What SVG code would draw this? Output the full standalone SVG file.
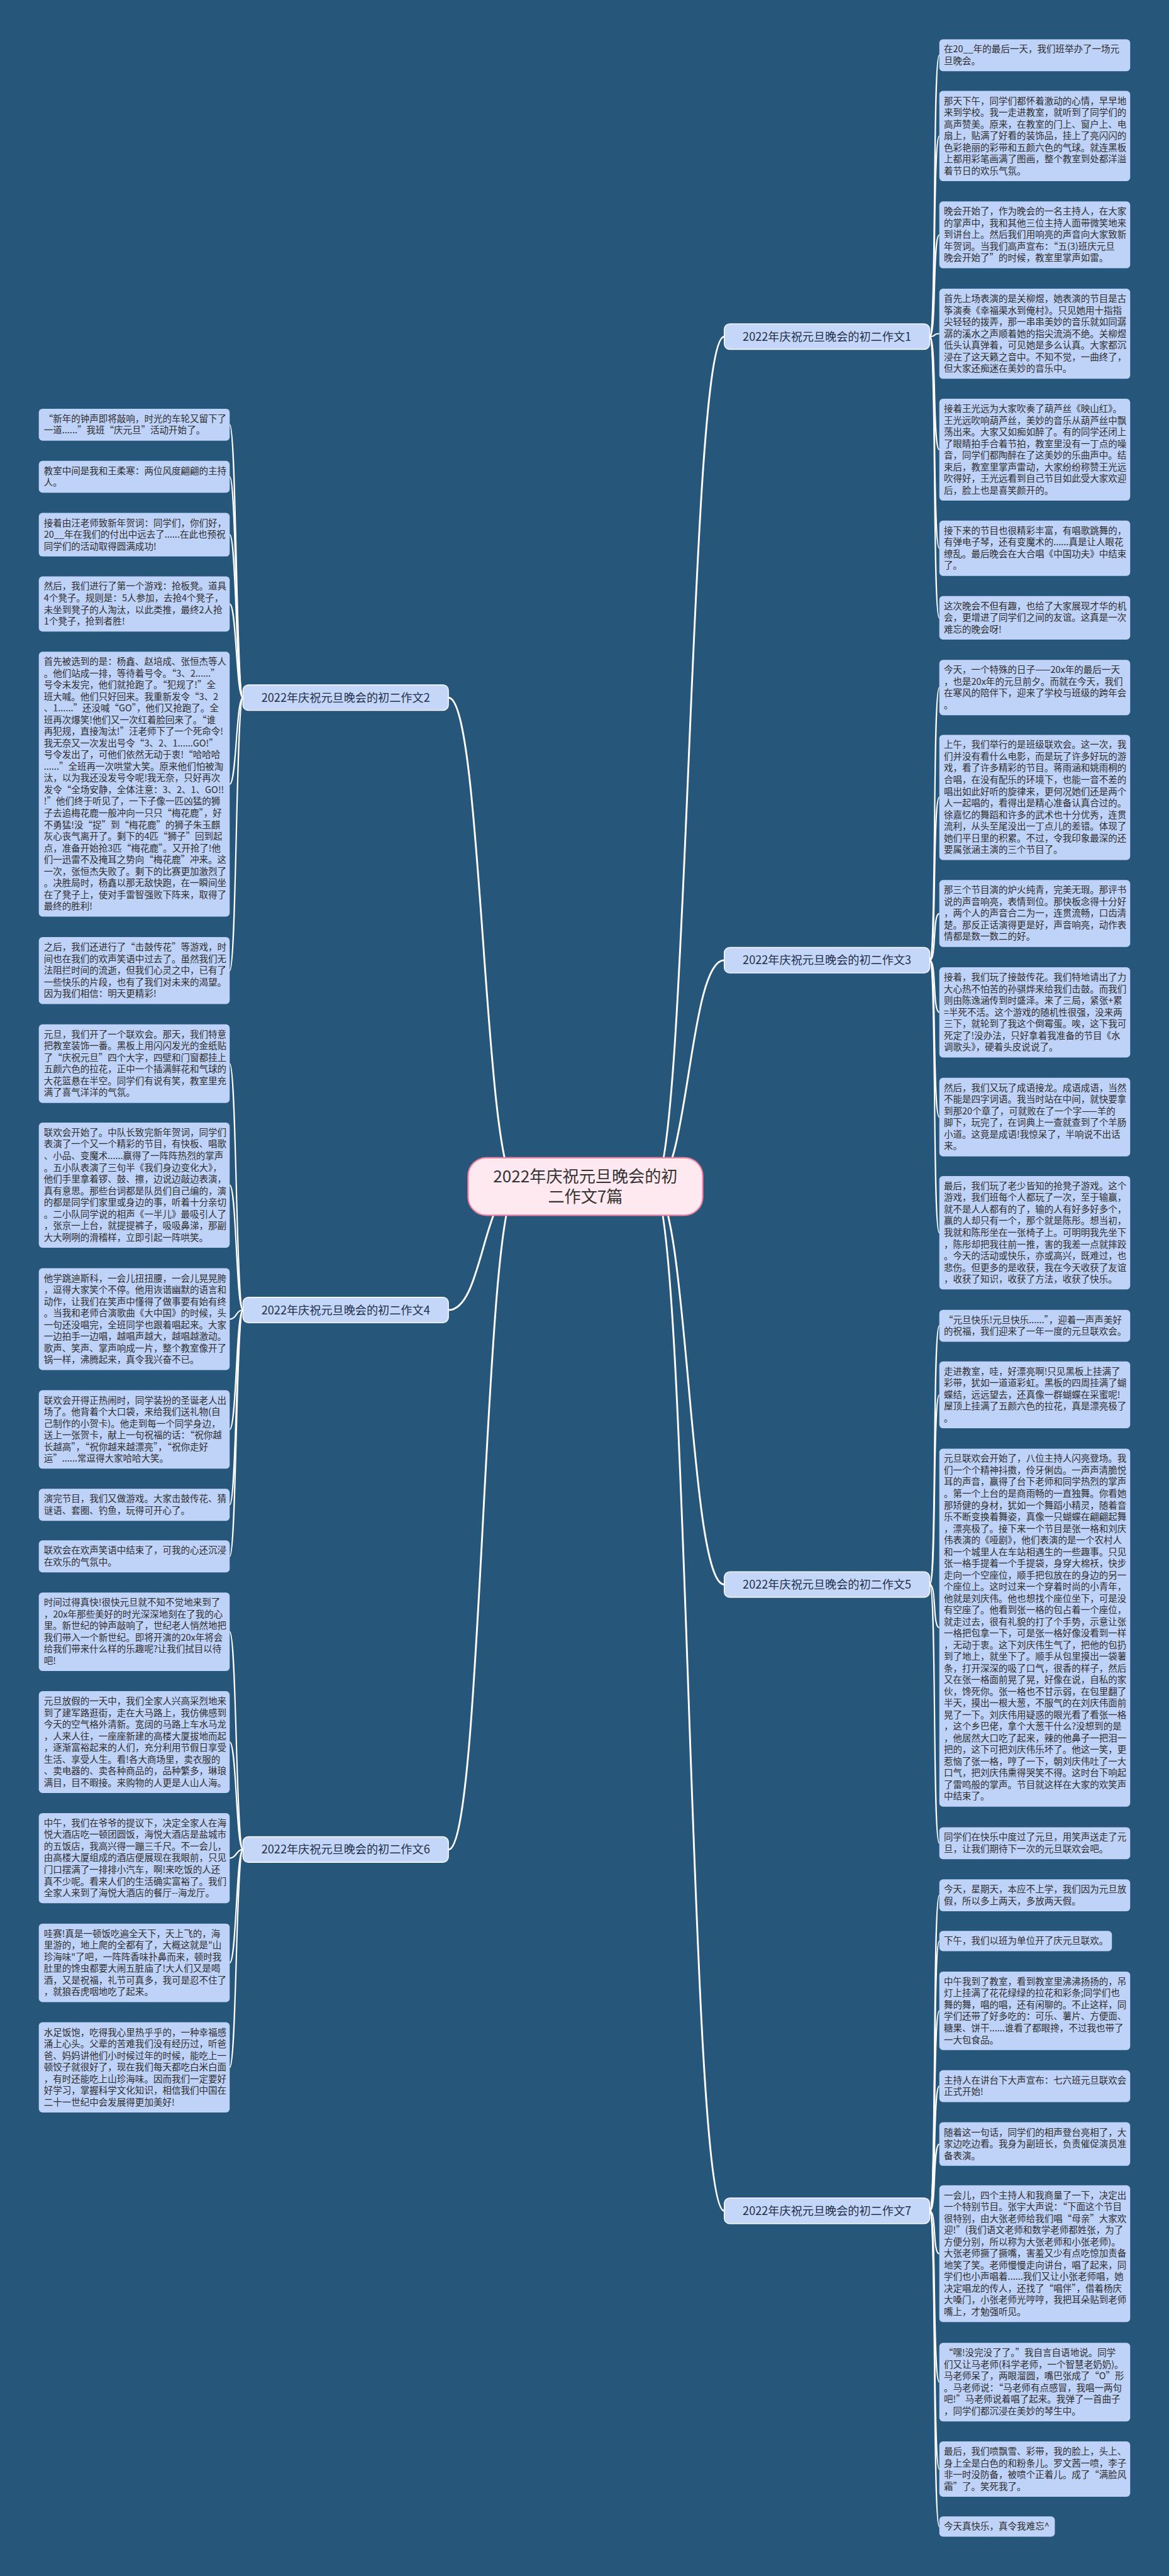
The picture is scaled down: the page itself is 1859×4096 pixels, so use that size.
<svg xmlns="http://www.w3.org/2000/svg" width="1859" height="4096" viewBox="0 0 1859 4096">
<style>
.bg{fill:#26567a}
.leaf{fill:#bfd2f8}
.t{font-family:"Noto Sans CJK SC","Noto Sans",sans-serif;font-size:20px;fill:#2e2e2e}
.br{fill:#c4d7f9;stroke:#ffffff;stroke-width:2}
.bt{font-family:"Noto Sans CJK SC","Noto Sans",sans-serif;font-size:25px;fill:#1f2f4a;text-anchor:middle}
.ct{font-family:"Noto Sans CJK SC","Noto Sans",sans-serif;font-size:36px;fill:#333333;text-anchor:middle}
.c1{fill:none;stroke:#ffffff;stroke-width:4}
.c2{fill:none;stroke:#ffffff;stroke-width:3}
</style>
<rect class="bg" x="0" y="0" width="1859" height="4096"/>
<g transform="scale(0.72617)">
<g id="connectors">
<path class="c1" d="M1430 2598 C1508 2598 1508 737 1586 737"/>
<path class="c1" d="M1430 2598 C1508 2598 1508 2102.5 1586 2102.5"/>
<path class="c1" d="M1430 2598 C1508 2598 1508 3469.5 1586 3469.5"/>
<path class="c1" d="M1430 2598 C1508 2598 1508 4841 1586 4841"/>
<path class="c1" d="M1134 2598 C1058 2598 1058 1527.6 982 1527.6"/>
<path class="c1" d="M1134 2598 C1058 2598 1058 2868.5 982 2868.5"/>
<path class="c1" d="M1134 2598 C1058 2598 1058 4049.9 982 4049.9"/>
<path class="c2" d="M2036 737 C2051 737 2042 121 2057 121"/>
<path class="c2" d="M2036 737 C2051 737 2042 298 2057 298"/>
<path class="c2" d="M2036 737 C2051 737 2042 514.5 2057 514.5"/>
<path class="c2" d="M2036 737 C2051 737 2042 730.5 2057 730.5"/>
<path class="c2" d="M2036 737 C2051 737 2042 984.5 2057 984.5"/>
<path class="c2" d="M2036 737 C2051 737 2042 1200.5 2057 1200.5"/>
<path class="c2" d="M2036 737 C2051 737 2042 1353 2057 1353"/>
<path class="c2" d="M2036 2102.5 C2051 2102.5 2042 1505.5 2057 1505.5"/>
<path class="c2" d="M2036 2102.5 C2051 2102.5 2042 1746 2057 1746"/>
<path class="c2" d="M2036 2102.5 C2051 2102.5 2042 2000.5 2057 2000.5"/>
<path class="c2" d="M2036 2102.5 C2051 2102.5 2042 2216.5 2057 2216.5"/>
<path class="c2" d="M2036 2102.5 C2051 2102.5 2042 2446 2057 2446"/>
<path class="c2" d="M2036 2102.5 C2051 2102.5 2042 2699.5 2057 2699.5"/>
<path class="c2" d="M2036 3469.5 C2051 3469.5 2042 2903 2057 2903"/>
<path class="c2" d="M2036 3469.5 C2051 3469.5 2042 3054.5 2057 3054.5"/>
<path class="c2" d="M2036 3469.5 C2051 3469.5 2042 3564 2057 3564"/>
<path class="c2" d="M2036 3469.5 C2051 3469.5 2042 4036 2057 4036"/>
<path class="c2" d="M2036 4841 C2051 4841 2042 4150 2057 4150"/>
<path class="c2" d="M2036 4841 C2051 4841 2042 4250.5 2057 4250.5"/>
<path class="c2" d="M2036 4841 C2051 4841 2042 4403 2057 4403"/>
<path class="c2" d="M2036 4841 C2051 4841 2042 4568 2057 4568"/>
<path class="c2" d="M2036 4841 C2051 4841 2042 4695 2057 4695"/>
<path class="c2" d="M2036 4841 C2051 4841 2042 4935 2057 4935"/>
<path class="c2" d="M2036 4841 C2051 4841 2042 5216 2057 5216"/>
<path class="c2" d="M2036 4841 C2051 4841 2042 5406.5 2057 5406.5"/>
<path class="c2" d="M2036 4841 C2051 4841 2042 5532.5 2057 5532.5"/>
<path class="c2" d="M532 1527.6 C517 1527.6 518 930 503 930"/>
<path class="c2" d="M532 1527.6 C517 1527.6 518 1044 503 1044"/>
<path class="c2" d="M532 1527.6 C517 1527.6 518 1170.75 503 1170.75"/>
<path class="c2" d="M532 1527.6 C517 1527.6 518 1322.5 503 1322.5"/>
<path class="c2" d="M532 1527.6 C517 1527.6 518 1717 503 1717"/>
<path class="c2" d="M532 1527.6 C517 1527.6 518 2125.25 503 2125.25"/>
<path class="c2" d="M532 2868.5 C517 2868.5 518 2329 503 2329"/>
<path class="c2" d="M532 2868.5 C517 2868.5 518 2595 503 2595"/>
<path class="c2" d="M532 2868.5 C517 2868.5 518 2888.5 503 2888.5"/>
<path class="c2" d="M532 2868.5 C517 2868.5 518 3130 503 3130"/>
<path class="c2" d="M532 2868.5 C517 2868.5 518 3295 503 3295"/>
<path class="c2" d="M532 2868.5 C517 2868.5 518 3408 503 3408"/>
<path class="c2" d="M532 4049.9 C517 4049.9 518 3573 503 3573"/>
<path class="c2" d="M532 4049.9 C517 4049.9 518 3814.5 503 3814.5"/>
<path class="c2" d="M532 4049.9 C517 4049.9 518 4068.75 503 4068.75"/>
<path class="c2" d="M532 4049.9 C517 4049.9 518 4298 503 4298"/>
<path class="c2" d="M532 4049.9 C517 4049.9 518 4526.75 503 4526.75"/>
</g>

<g id="center">
<rect x="1025" y="2535" width="514" height="126" rx="40" fill="#fde9ef" stroke="#ee7f9f" stroke-width="3"/>
<text class="ct" x="1282" y="2589">2022年庆祝元旦晚会的初</text>
<text class="ct" x="1282" y="2633">二作文7篇</text>
</g>

<g id="b1"><rect class="br" x="1586" y="709" width="450" height="56" rx="12"/><text class="bt" x="1811" y="746">2022年庆祝元旦晚会的初二作文1</text></g>
<g id="b3"><rect class="br" x="1586" y="2074.5" width="450" height="56" rx="12"/><text class="bt" x="1811" y="2111.5">2022年庆祝元旦晚会的初二作文3</text></g>
<g id="b5"><rect class="br" x="1586" y="3441.5" width="450" height="56" rx="12"/><text class="bt" x="1811" y="3478.5">2022年庆祝元旦晚会的初二作文5</text></g>
<g id="b7"><rect class="br" x="1586" y="4813" width="450" height="56" rx="12"/><text class="bt" x="1811" y="4850">2022年庆祝元旦晚会的初二作文7</text></g>
<g id="b2"><rect class="br" x="532" y="1499.6" width="450" height="56" rx="12"/><text class="bt" x="757" y="1536.6">2022年庆祝元旦晚会的初二作文2</text></g>
<g id="b4"><rect class="br" x="532" y="2840.5" width="450" height="56" rx="12"/><text class="bt" x="757" y="2877.5">2022年庆祝元旦晚会的初二作文4</text></g>
<g id="b6"><rect class="br" x="532" y="4021.9" width="450" height="56" rx="12"/><text class="bt" x="757" y="4058.9">2022年庆祝元旦晚会的初二作文6</text></g>

<g id="r1"><rect class="leaf" x="2057" y="86" width="418" height="70" rx="8"/><text class="t" x="2067" y="115"><tspan x="2067">在20__年的最后一天，我们班举办了一场元</tspan><tspan x="2067" dy="25.5">旦晚会。</tspan></text></g>
<g id="r2"><rect class="leaf" x="2057" y="199" width="418" height="197.5" rx="8"/><text class="t" x="2067" y="228"><tspan x="2067">那天下午，同学们都怀着激动的心情，早早地</tspan><tspan x="2067" dy="25.5">来到学校。我一走进教室，就听到了同学们的</tspan><tspan x="2067" dy="25.5">高声赞美。原来，在教室的门上、窗户上、电</tspan><tspan x="2067" dy="25.5">扇上，贴满了好看的装饰品，挂上了亮闪闪的</tspan><tspan x="2067" dy="25.5">色彩艳丽的彩带和五颜六色的气球。就连黑板</tspan><tspan x="2067" dy="25.5">上都用彩笔画满了图画，整个教室到处都洋溢</tspan><tspan x="2067" dy="25.5">着节日的欢乐气氛。</tspan></text></g>
<g id="r3"><rect class="leaf" x="2057" y="441" width="418" height="146.5" rx="8"/><text class="t" x="2067" y="470"><tspan x="2067">晚会开始了，作为晚会的一名主持人，在大家</tspan><tspan x="2067" dy="25.5">的掌声中，我和其他三位主持人面带微笑地来</tspan><tspan x="2067" dy="25.5">到讲台上。然后我们用响亮的声音向大家致新</tspan><tspan x="2067" dy="25.5">年贺词。当我们高声宣布：“五(3)班庆元旦</tspan><tspan x="2067" dy="25.5">晚会开始了”的时候，教室里掌声如雷。</tspan></text></g>
<g id="r4"><rect class="leaf" x="2057" y="632" width="418" height="197.5" rx="8"/><text class="t" x="2067" y="661"><tspan x="2067">首先上场表演的是关柳煜，她表演的节目是古</tspan><tspan x="2067" dy="25.5">筝演奏《幸福渠水到俺村》。只见她用十指指</tspan><tspan x="2067" dy="25.5">尖轻轻的拨弄，那一串串美妙的音乐就如同潺</tspan><tspan x="2067" dy="25.5">潺的溪水之声顺着她的指尖流淌不绝。关柳煜</tspan><tspan x="2067" dy="25.5">低头认真弹着，可见她是多么认真。大家都沉</tspan><tspan x="2067" dy="25.5">浸在了这天籁之音中。不知不觉，一曲终了，</tspan><tspan x="2067" dy="25.5">但大家还痴迷在美妙的音乐中。</tspan></text></g>
<g id="r5"><rect class="leaf" x="2057" y="873" width="418" height="223" rx="8"/><text class="t" x="2067" y="902"><tspan x="2067">接着王光远为大家吹奏了葫芦丝《映山红》。</tspan><tspan x="2067" dy="25.5">王光远吹响葫芦丝，美妙的音乐从葫芦丝中飘</tspan><tspan x="2067" dy="25.5">荡出来。大家又如痴如醉了。有的同学还闭上</tspan><tspan x="2067" dy="25.5">了眼睛拍手合着节拍，教室里没有一丁点的噪</tspan><tspan x="2067" dy="25.5">音，同学们都陶醉在了这美妙的乐曲声中。结</tspan><tspan x="2067" dy="25.5">束后，教室里掌声雷动，大家纷纷称赞王光远</tspan><tspan x="2067" dy="25.5">吹得好，王光远看到自己节目如此受大家欢迎</tspan><tspan x="2067" dy="25.5">后，脸上也是喜笑颜开的。</tspan></text></g>
<g id="r6"><rect class="leaf" x="2057" y="1140" width="418" height="121" rx="8"/><text class="t" x="2067" y="1169"><tspan x="2067">接下来的节目也很精彩丰富，有唱歌跳舞的，</tspan><tspan x="2067" dy="25.5">有弹电子琴，还有变魔术的......真是让人眼花</tspan><tspan x="2067" dy="25.5">缭乱。最后晚会在大合唱《中国功夫》中结束</tspan><tspan x="2067" dy="25.5">了。</tspan></text></g>
<g id="r7"><rect class="leaf" x="2057" y="1305" width="418" height="95.5" rx="8"/><text class="t" x="2067" y="1334"><tspan x="2067">这次晚会不但有趣，也给了大家展现才华的机</tspan><tspan x="2067" dy="25.5">会，更增进了同学们之间的友谊。这真是一次</tspan><tspan x="2067" dy="25.5">难忘的晚会呀!</tspan></text></g>
<g id="r8"><rect class="leaf" x="2057" y="1445" width="418" height="121" rx="8"/><text class="t" x="2067" y="1474"><tspan x="2067">今天，一个特殊的日子——20x年的最后一天</tspan><tspan x="2067" dy="25.5">，也是20x年的元旦前夕。而就在今天，我们</tspan><tspan x="2067" dy="25.5">在寒风的陪伴下，迎来了学校与班级的跨年会</tspan><tspan x="2067" dy="25.5">。</tspan></text></g>
<g id="r9"><rect class="leaf" x="2057" y="1609" width="418" height="274" rx="8"/><text class="t" x="2067" y="1638"><tspan x="2067">上午，我们举行的是班级联欢会。这一次，我</tspan><tspan x="2067" dy="25.5">们并没有看什么电影，而是玩了许多好玩的游</tspan><tspan x="2067" dy="25.5">戏，看了许多精彩的节目。蒋雨涵和姚雨桐的</tspan><tspan x="2067" dy="25.5">合唱，在没有配乐的环境下，也能一音不差的</tspan><tspan x="2067" dy="25.5">唱出如此好听的旋律来，更何况她们还是两个</tspan><tspan x="2067" dy="25.5">人一起唱的，看得出是精心准备认真合过的。</tspan><tspan x="2067" dy="25.5">徐嘉忆的舞蹈和许多的武术也十分优秀，连贯</tspan><tspan x="2067" dy="25.5">流利，从头至尾没出一丁点儿的差错。体现了</tspan><tspan x="2067" dy="25.5">她们平日里的积累。不过，令我印象最深的还</tspan><tspan x="2067" dy="25.5">要属张涵主演的三个节目了。</tspan></text></g>
<g id="r10"><rect class="leaf" x="2057" y="1927" width="418" height="146.5" rx="8"/><text class="t" x="2067" y="1956"><tspan x="2067">那三个节目演的炉火纯青，完美无瑕。那评书</tspan><tspan x="2067" dy="25.5">说的声音响亮，表情到位。那快板念得十分好</tspan><tspan x="2067" dy="25.5">，两个人的声音合二为一，连贯流畅，口齿清</tspan><tspan x="2067" dy="25.5">楚。那反正话演得更是好，声音响亮，动作表</tspan><tspan x="2067" dy="25.5">情都是数一数二的好。</tspan></text></g>
<g id="r11"><rect class="leaf" x="2057" y="2118" width="418" height="197.5" rx="8"/><text class="t" x="2067" y="2147"><tspan x="2067">接着，我们玩了接鼓传花。我们特地请出了力</tspan><tspan x="2067" dy="25.5">大心热不怕苦的孙骐烨来给我们击鼓。而我们</tspan><tspan x="2067" dy="25.5">则由陈逸涵传到时盛泽。来了三局，紧张+累</tspan><tspan x="2067" dy="25.5">=半死不活。这个游戏的随机性很强，没来两</tspan><tspan x="2067" dy="25.5">三下，就轮到了我这个倒霉蛋。唉，这下我可</tspan><tspan x="2067" dy="25.5">死定了!没办法，只好拿着我准备的节目《水</tspan><tspan x="2067" dy="25.5">调歌头》，硬着头皮说说了。</tspan></text></g>
<g id="r12"><rect class="leaf" x="2057" y="2360" width="418" height="172" rx="8"/><text class="t" x="2067" y="2389"><tspan x="2067">然后，我们又玩了成语接龙。成语成语，当然</tspan><tspan x="2067" dy="25.5">不能是四字词语。我当时站在中间，就快要拿</tspan><tspan x="2067" dy="25.5">到那20个章了，可就败在了一个字——羊的</tspan><tspan x="2067" dy="25.5">脚下，玩完了，在词典上一查就查到了个羊肠</tspan><tspan x="2067" dy="25.5">小道。这竟是成语!我惊呆了，半响说不出话</tspan><tspan x="2067" dy="25.5">来。</tspan></text></g>
<g id="r13"><rect class="leaf" x="2057" y="2575" width="418" height="248.5" rx="8"/><text class="t" x="2067" y="2604"><tspan x="2067">最后，我们玩了老少皆知的抢凳子游戏。这个</tspan><tspan x="2067" dy="25.5">游戏，我们班每个人都玩了一次，至于输赢，</tspan><tspan x="2067" dy="25.5">就不是人人都有的了，输的人有好多好多个，</tspan><tspan x="2067" dy="25.5">赢的人却只有一个，那个就是陈彤。想当初，</tspan><tspan x="2067" dy="25.5">我就和陈彤坐在一张椅子上。可明明我先坐下</tspan><tspan x="2067" dy="25.5">，陈彤却把我往前一推，害的我差一点就摔跤</tspan><tspan x="2067" dy="25.5">。今天的活动或快乐，亦或高兴，既难过，也</tspan><tspan x="2067" dy="25.5">悲伤。但更多的是收获，我在今天收获了友谊</tspan><tspan x="2067" dy="25.5">，收获了知识，收获了方法，收获了快乐。</tspan></text></g>
<g id="r14"><rect class="leaf" x="2057" y="2868" width="418" height="70" rx="8"/><text class="t" x="2067" y="2897"><tspan x="2067">“元旦快乐!元旦快乐......”，迎着一声声美好</tspan><tspan x="2067" dy="25.5">的祝福，我们迎来了一年一度的元旦联欢会。</tspan></text></g>
<g id="r15"><rect class="leaf" x="2057" y="2981" width="418" height="146.5" rx="8"/><text class="t" x="2067" y="3010"><tspan x="2067">走进教室，哇，好漂亮啊!只见黑板上挂满了</tspan><tspan x="2067" dy="25.5">彩带，犹如一道道彩虹。黑板的四周挂满了蝴</tspan><tspan x="2067" dy="25.5">蝶结，远远望去，还真像一群蝴蝶在采蜜呢!</tspan><tspan x="2067" dy="25.5">屋顶上挂满了五颜六色的拉花，真是漂亮极了</tspan><tspan x="2067" dy="25.5">。</tspan></text></g>
<g id="r16"><rect class="leaf" x="2057" y="3172" width="418" height="784" rx="8"/><text class="t" x="2067" y="3201"><tspan x="2067">元旦联欢会开始了，八位主持人闪亮登场。我</tspan><tspan x="2067" dy="25.5">们一个个精神抖擞，伶牙俐齿。一声声清脆悦</tspan><tspan x="2067" dy="25.5">耳的声音，赢得了台下老师和同学热烈的掌声</tspan><tspan x="2067" dy="25.5">。第一个上台的是商雨畅的一直独舞。你看她</tspan><tspan x="2067" dy="25.5">那矫健的身材，犹如一个舞蹈小精灵，随着音</tspan><tspan x="2067" dy="25.5">乐不断变换着舞姿，真像一只蝴蝶在翩翩起舞</tspan><tspan x="2067" dy="25.5">，漂亮极了。接下来一个节目是张一格和刘庆</tspan><tspan x="2067" dy="25.5">伟表演的《哑剧》，他们表演的是一个农村人</tspan><tspan x="2067" dy="25.5">和一个城里人在车站相遇生的一些趣事。只见</tspan><tspan x="2067" dy="25.5">张一格手提着一个手提袋，身穿大棉袄，快步</tspan><tspan x="2067" dy="25.5">走向一个空座位，顺手把包放在的身边的另一</tspan><tspan x="2067" dy="25.5">个座位上。这时过来一个穿着时尚的小青年，</tspan><tspan x="2067" dy="25.5">他就是刘庆伟。他也想找个座位坐下，可是没</tspan><tspan x="2067" dy="25.5">有空座了。他看到张一格的包占着一个座位，</tspan><tspan x="2067" dy="25.5">就走过去，很有礼貌的打了个手势，示意让张</tspan><tspan x="2067" dy="25.5">一格把包拿一下，可是张一格好像没看到一样</tspan><tspan x="2067" dy="25.5">，无动于衷。这下刘庆伟生气了，把他的包扔</tspan><tspan x="2067" dy="25.5">到了地上，就坐下了。顺手从包里摸出一袋薯</tspan><tspan x="2067" dy="25.5">条，打开深深的吸了口气，很香的样子，然后</tspan><tspan x="2067" dy="25.5">又在张一格面前晃了晃，好像在说，自私的家</tspan><tspan x="2067" dy="25.5">伙，馋死你。张一格也不甘示弱，在包里翻了</tspan><tspan x="2067" dy="25.5">半天，摸出一根大葱，不服气的在刘庆伟面前</tspan><tspan x="2067" dy="25.5">晃了一下。刘庆伟用疑惑的眼光看了看张一格</tspan><tspan x="2067" dy="25.5">，这个乡巴佬，拿个大葱干什么?没想到的是</tspan><tspan x="2067" dy="25.5">，他居然大口吃了起来，辣的他鼻子一把泪一</tspan><tspan x="2067" dy="25.5">把的，这下可把刘庆伟乐坏了。他这一笑，更</tspan><tspan x="2067" dy="25.5">惹恼了张一格，哼了一下，朝刘庆伟吐了一大</tspan><tspan x="2067" dy="25.5">口气，把刘庆伟熏得哭笑不得。这时台下响起</tspan><tspan x="2067" dy="25.5">了雷鸣般的掌声。节目就这样在大家的欢笑声</tspan><tspan x="2067" dy="25.5">中结束了。</tspan></text></g>
<g id="r17"><rect class="leaf" x="2057" y="4001" width="418" height="70" rx="8"/><text class="t" x="2067" y="4030"><tspan x="2067">同学们在快乐中度过了元旦，用笑声送走了元</tspan><tspan x="2067" dy="25.5">旦，让我们期待下一次的元旦联欢会吧。</tspan></text></g>
<g id="r18"><rect class="leaf" x="2057" y="4115" width="418" height="70" rx="8"/><text class="t" x="2067" y="4144"><tspan x="2067">今天，星期天，本应不上学，我们因为元旦放</tspan><tspan x="2067" dy="25.5">假，所以多上两天，多放两天假。</tspan></text></g>
<g id="r19"><rect class="leaf" x="2057" y="4228" width="378" height="44.5" rx="8"/><text class="t" x="2067" y="4257">下午，我们以班为单位开了庆元旦联欢。</text></g>
<g id="r20"><rect class="leaf" x="2057" y="4317" width="418" height="172" rx="8"/><text class="t" x="2067" y="4346"><tspan x="2067">中午我到了教室，看到教室里沸沸扬扬的，吊</tspan><tspan x="2067" dy="25.5">灯上挂满了花花绿绿的拉花和彩条;同学们也</tspan><tspan x="2067" dy="25.5">舞的舞，唱的唱，还有闲聊的。不止这样，同</tspan><tspan x="2067" dy="25.5">学们还带了好多吃的：可乐、薯片、方便面、</tspan><tspan x="2067" dy="25.5">糖果、饼干......谁看了都眼搀，不过我也带了</tspan><tspan x="2067" dy="25.5">一大包食品。</tspan></text></g>
<g id="r21"><rect class="leaf" x="2057" y="4533" width="418" height="70" rx="8"/><text class="t" x="2067" y="4562"><tspan x="2067">主持人在讲台下大声宣布：七六班元旦联欢会</tspan><tspan x="2067" dy="25.5">正式开始!</tspan></text></g>
<g id="r22"><rect class="leaf" x="2057" y="4647" width="418" height="95.5" rx="8"/><text class="t" x="2067" y="4676"><tspan x="2067">随着这一句话，同学们的相声登台亮相了，大</tspan><tspan x="2067" dy="25.5">家边吃边看。我身为副班长，负责催促演员准</tspan><tspan x="2067" dy="25.5">备表演。</tspan></text></g>
<g id="r23"><rect class="leaf" x="2057" y="4785" width="418" height="299.5" rx="8"/><text class="t" x="2067" y="4814"><tspan x="2067">一会儿，四个主持人和我商量了一下，决定出</tspan><tspan x="2067" dy="25.5">一个特别节目。张宇大声说：“下面这个节目</tspan><tspan x="2067" dy="25.5">很特别，由大张老师给我们唱“母亲”大家欢</tspan><tspan x="2067" dy="25.5">迎!”(我们语文老师和数学老师都姓张，为了</tspan><tspan x="2067" dy="25.5">方便分别，所以称为大张老师和小张老师)。</tspan><tspan x="2067" dy="25.5">大张老师撅了撅嘴，害羞又少有点吃惊加责备</tspan><tspan x="2067" dy="25.5">地笑了笑。老师慢慢走向讲台，唱了起来，同</tspan><tspan x="2067" dy="25.5">学们也小声唱着......我们又让小张老师唱，她</tspan><tspan x="2067" dy="25.5">决定唱龙的传人，还找了“唱伴”，借着杨庆</tspan><tspan x="2067" dy="25.5">大嗓门，小张老师光哼哼，我把耳朵贴到老师</tspan><tspan x="2067" dy="25.5">嘴上，才勉强听见。</tspan></text></g>
<g id="r24"><rect class="leaf" x="2057" y="5130" width="418" height="172" rx="8"/><text class="t" x="2067" y="5159"><tspan x="2067">“嘿!没完没了了。”我自言自语地说。同学</tspan><tspan x="2067" dy="25.5">们又让马老师(科学老师，一个智慧老奶奶)。</tspan><tspan x="2067" dy="25.5">马老师呆了，两眼溜圆，嘴巴张成了“O”形</tspan><tspan x="2067" dy="25.5">。马老师说：“马老师有点感冒，我唱一两句</tspan><tspan x="2067" dy="25.5">吧!”马老师说着唱了起来。我弹了一首曲子</tspan><tspan x="2067" dy="25.5">，同学们都沉浸在美妙的琴生中。</tspan></text></g>
<g id="r25"><rect class="leaf" x="2057" y="5346" width="418" height="121" rx="8"/><text class="t" x="2067" y="5375"><tspan x="2067">最后，我们喷飘雪、彩带，我的脸上，头上、</tspan><tspan x="2067" dy="25.5">身上全是白色的和粉条儿。罗文茜一喷，李子</tspan><tspan x="2067" dy="25.5">非一时没防备，被喷个正着儿。成了“满脸风</tspan><tspan x="2067" dy="25.5">霜”了。笑死我了。</tspan></text></g>
<g id="r26"><rect class="leaf" x="2057" y="5510" width="253" height="44.5" rx="8"/><text class="t" x="2067" y="5539">今天真快乐，真令我难忘^</text></g>

<g id="l1"><rect class="leaf" x="85" y="895" width="418" height="70" rx="8"/><text class="t" x="96" y="924"><tspan x="96">“新年的钟声即将敲响，时光的车轮又留下了</tspan><tspan x="96" dy="25.5">一道......”我班“庆元旦”活动开始了。</tspan></text></g>
<g id="l2"><rect class="leaf" x="85" y="1009" width="418" height="70" rx="8"/><text class="t" x="96" y="1038"><tspan x="96">教室中间是我和王柔寒：两位风度翩翩的主持</tspan><tspan x="96" dy="25.5">人。</tspan></text></g>
<g id="l3"><rect class="leaf" x="85" y="1123" width="418" height="95.5" rx="8"/><text class="t" x="96" y="1152"><tspan x="96">接着由汪老师致新年贺词：同学们，你们好，</tspan><tspan x="96" dy="25.5">20__年在我们的付出中远去了......在此也预祝</tspan><tspan x="96" dy="25.5">同学们的活动取得圆满成功!</tspan></text></g>
<g id="l4"><rect class="leaf" x="85" y="1262" width="418" height="121" rx="8"/><text class="t" x="96" y="1291"><tspan x="96">然后，我们进行了第一个游戏：抢板凳。道具</tspan><tspan x="96" dy="25.5">4个凳子。规则是：5人参加，去抢4个凳子，</tspan><tspan x="96" dy="25.5">未坐到凳子的人淘汰，以此类推，最终2人抢</tspan><tspan x="96" dy="25.5">1个凳子，抢到者胜!</tspan></text></g>
<g id="l5"><rect class="leaf" x="85" y="1427" width="418" height="580" rx="8"/><text class="t" x="96" y="1456"><tspan x="96">首先被选到的是：杨鑫、赵培成、张恒杰等人</tspan><tspan x="96" dy="25.5">。他们站成一排，等待着号令。“3、2......”</tspan><tspan x="96" dy="25.5">号令未发完，他们就抢跑了。“犯规了!”全</tspan><tspan x="96" dy="25.5">班大喊。他们只好回来。我重新发令“3、2</tspan><tspan x="96" dy="25.5">、1......”还没喊“GO”，他们又抢跑了。全</tspan><tspan x="96" dy="25.5">班再次爆笑!他们又一次红着脸回来了。“谁</tspan><tspan x="96" dy="25.5">再犯规，直接淘汰!”汪老师下了一个死命令!</tspan><tspan x="96" dy="25.5">我无奈又一次发出号令“3、2、1......GO!”</tspan><tspan x="96" dy="25.5">号令发出了，可他们依然无动于衷!“哈哈哈</tspan><tspan x="96" dy="25.5">......”全班再一次哄堂大笑。原来他们怕被淘</tspan><tspan x="96" dy="25.5">汰，以为我还没发号令呢!我无奈，只好再次</tspan><tspan x="96" dy="25.5">发令“全场安静，全体注意：3、2、1、GO!!</tspan><tspan x="96" dy="25.5">!”他们终于听见了，一下子像一匹凶猛的狮</tspan><tspan x="96" dy="25.5">子去追梅花鹿一般冲向一只只“梅花鹿”，好</tspan><tspan x="96" dy="25.5">不勇猛!没“捉”到“梅花鹿”的狮子朱玉麒</tspan><tspan x="96" dy="25.5">灰心丧气离开了。剩下的4匹“狮子”回到起</tspan><tspan x="96" dy="25.5">点，准备开始抢3匹“梅花鹿”。又开抢了!他</tspan><tspan x="96" dy="25.5">们一迅雷不及掩耳之势向“梅花鹿”冲来。这</tspan><tspan x="96" dy="25.5">一次，张恒杰失败了。剩下的比赛更加激烈了</tspan><tspan x="96" dy="25.5">。决胜局时，杨鑫以那无敌快跑，在一瞬间坐</tspan><tspan x="96" dy="25.5">在了凳子上，使对手雷智强败下阵来，取得了</tspan><tspan x="96" dy="25.5">最终的胜利!</tspan></text></g>
<g id="l6"><rect class="leaf" x="85" y="2052" width="418" height="146.5" rx="8"/><text class="t" x="96" y="2081"><tspan x="96">之后，我们还进行了“击鼓传花”等游戏，时</tspan><tspan x="96" dy="25.5">间也在我们的欢声笑语中过去了。虽然我们无</tspan><tspan x="96" dy="25.5">法阻拦时间的流逝，但我们心灵之中，已有了</tspan><tspan x="96" dy="25.5">一些快乐的片段，也有了我们对未来的渴望。</tspan><tspan x="96" dy="25.5">因为我们相信：明天更精彩!</tspan></text></g>
<g id="l7"><rect class="leaf" x="85" y="2243" width="418" height="172" rx="8"/><text class="t" x="96" y="2272"><tspan x="96">元旦，我们开了一个联欢会。那天，我们特意</tspan><tspan x="96" dy="25.5">把教室装饰一番。黑板上用闪闪发光的金纸贴</tspan><tspan x="96" dy="25.5">了“庆祝元旦”四个大字，四壁和门窗都挂上</tspan><tspan x="96" dy="25.5">五颜六色的拉花，正中一个插满鲜花和气球的</tspan><tspan x="96" dy="25.5">大花篮悬在半空。同学们有说有笑，教室里充</tspan><tspan x="96" dy="25.5">满了喜气洋洋的气氛。</tspan></text></g>
<g id="l8"><rect class="leaf" x="85" y="2458" width="418" height="274" rx="8"/><text class="t" x="96" y="2487"><tspan x="96">联欢会开始了。中队长致完新年贺词，同学们</tspan><tspan x="96" dy="25.5">表演了一个又一个精彩的节目，有快板、唱歌</tspan><tspan x="96" dy="25.5">、小品、变魔术......赢得了一阵阵热烈的掌声</tspan><tspan x="96" dy="25.5">。五小队表演了三句半《我们身边变化大》，</tspan><tspan x="96" dy="25.5">他们手里拿着锣、鼓、擦，边说边敲边表演，</tspan><tspan x="96" dy="25.5">真有意思。那些台词都是队员们自己编的，演</tspan><tspan x="96" dy="25.5">的都是同学们家里或身边的事，听着十分亲切</tspan><tspan x="96" dy="25.5">。二小队同学说的相声《一半儿》最吸引人了</tspan><tspan x="96" dy="25.5">，张京一上台，就提提裤子，吸吸鼻涕，那副</tspan><tspan x="96" dy="25.5">大大咧咧的滑稽样，立即引起一阵哄笑。</tspan></text></g>
<g id="l9"><rect class="leaf" x="85" y="2777" width="418" height="223" rx="8"/><text class="t" x="96" y="2806"><tspan x="96">他学跳迪斯科，一会儿扭扭腰，一会儿晃晃胯</tspan><tspan x="96" dy="25.5">，逗得大家笑个不停。他用诙谐幽默的语言和</tspan><tspan x="96" dy="25.5">动作，让我们在笑声中懂得了做事要有始有终</tspan><tspan x="96" dy="25.5">。当我和老师合演歌曲《大中国》的时候，头</tspan><tspan x="96" dy="25.5">一句还没唱完，全班同学也跟着唱起来。大家</tspan><tspan x="96" dy="25.5">一边拍手一边唱，越唱声越大，越唱越激动。</tspan><tspan x="96" dy="25.5">歌声、笑声、掌声响成一片，整个教室像开了</tspan><tspan x="96" dy="25.5">锅一样，沸腾起来，真令我兴奋不已。</tspan></text></g>
<g id="l10"><rect class="leaf" x="85" y="3044" width="418" height="172" rx="8"/><text class="t" x="96" y="3073"><tspan x="96">联欢会开得正热闹时，同学装扮的圣诞老人出</tspan><tspan x="96" dy="25.5">场了。他背着个大口袋，来给我们送礼物(自</tspan><tspan x="96" dy="25.5">己制作的小贺卡)。他走到每一个同学身边，</tspan><tspan x="96" dy="25.5">送上一张贺卡，献上一句祝福的话：“祝你越</tspan><tspan x="96" dy="25.5">长越高”，“祝你越来越漂亮”，“祝你走好</tspan><tspan x="96" dy="25.5">运”......常逗得大家哈哈大笑。</tspan></text></g>
<g id="l11"><rect class="leaf" x="85" y="3260" width="418" height="70" rx="8"/><text class="t" x="96" y="3289"><tspan x="96">演完节目，我们又做游戏。大家击鼓传花、猜</tspan><tspan x="96" dy="25.5">谜语、套圈、钓鱼，玩得可开心了。</tspan></text></g>
<g id="l12"><rect class="leaf" x="85" y="3373" width="418" height="70" rx="8"/><text class="t" x="96" y="3402"><tspan x="96">联欢会在欢声笑语中结束了，可我的心还沉浸</tspan><tspan x="96" dy="25.5">在欢乐的气氛中。</tspan></text></g>
<g id="l13"><rect class="leaf" x="85" y="3487" width="418" height="172" rx="8"/><text class="t" x="96" y="3516"><tspan x="96">时间过得真快!很快元旦就不知不觉地来到了</tspan><tspan x="96" dy="25.5">，20x年那些美好的时光深深地刻在了我的心</tspan><tspan x="96" dy="25.5">里。新世纪的钟声敲响了，世纪老人悄然地把</tspan><tspan x="96" dy="25.5">我们带入一个新世纪。即将开演的20x年将会</tspan><tspan x="96" dy="25.5">给我们带来什么样的乐趣呢?让我们拭目以待</tspan><tspan x="96" dy="25.5">吧!</tspan></text></g>
<g id="l14"><rect class="leaf" x="85" y="3703" width="418" height="223" rx="8"/><text class="t" x="96" y="3732"><tspan x="96">元旦放假的一天中，我们全家人兴高采烈地来</tspan><tspan x="96" dy="25.5">到了建军路逛街，走在大马路上，我仿佛感到</tspan><tspan x="96" dy="25.5">今天的空气格外清新。宽阔的马路上车水马龙</tspan><tspan x="96" dy="25.5">，人来人往，一座座新建的高楼大厦拔地而起</tspan><tspan x="96" dy="25.5">，逐渐富裕起来的人们，充分利用节假日享受</tspan><tspan x="96" dy="25.5">生活、享受人生。看!各大商场里，卖衣服的</tspan><tspan x="96" dy="25.5">、卖电器的、卖各种商品的，品种繁多，琳琅</tspan><tspan x="96" dy="25.5">满目，目不暇接。来购物的人更是人山人海。</tspan></text></g>
<g id="l15"><rect class="leaf" x="85" y="3970" width="418" height="197.5" rx="8"/><text class="t" x="96" y="3999"><tspan x="96">中午，我们在爷爷的提议下，决定全家人在海</tspan><tspan x="96" dy="25.5">悦大酒店吃一顿团圆饭，海悦大酒店是盐城市</tspan><tspan x="96" dy="25.5">的五饭店，我高兴得一蹦三千尺。不一会儿，</tspan><tspan x="96" dy="25.5">由高楼大厦组成的酒店便展现在我眼前，只见</tspan><tspan x="96" dy="25.5">门口摆满了一排排小汽车，啊!来吃饭的人还</tspan><tspan x="96" dy="25.5">真不少呢。看来人们的生活确实富裕了。我们</tspan><tspan x="96" dy="25.5">全家人来到了海悦大酒店的餐厅--海龙厅。</tspan></text></g>
<g id="l16"><rect class="leaf" x="85" y="4212" width="418" height="172" rx="8"/><text class="t" x="96" y="4241"><tspan x="96">哇赛!真是一顿饭吃遍全天下，天上飞的，海</tspan><tspan x="96" dy="25.5">里游的，地上爬的全都有了，大概这就是"山</tspan><tspan x="96" dy="25.5">珍海味"了吧，一阵阵香味扑鼻而来，顿时我</tspan><tspan x="96" dy="25.5">肚里的馋虫都要大闹五脏庙了!大人们又是喝</tspan><tspan x="96" dy="25.5">酒，又是祝福，礼节可真多，我可是忍不住了</tspan><tspan x="96" dy="25.5">，就狼吞虎咽地吃了起来。</tspan></text></g>
<g id="l17"><rect class="leaf" x="85" y="4428" width="418" height="197.5" rx="8"/><text class="t" x="96" y="4457"><tspan x="96">水足饭饱，吃得我心里热乎乎的，一种幸福感</tspan><tspan x="96" dy="25.5">涌上心头。父辈的苦难我们没有经历过，听爸</tspan><tspan x="96" dy="25.5">爸、妈妈讲他们小时候过年的时候，能吃上一</tspan><tspan x="96" dy="25.5">顿饺子就很好了，现在我们每天都吃白米白面</tspan><tspan x="96" dy="25.5">，有时还能吃上山珍海味。因而我们一定要好</tspan><tspan x="96" dy="25.5">好学习，掌握科学文化知识，相信我们中国在</tspan><tspan x="96" dy="25.5">二十一世纪中会发展得更加美好!</tspan></text></g>
</g>
</svg>
